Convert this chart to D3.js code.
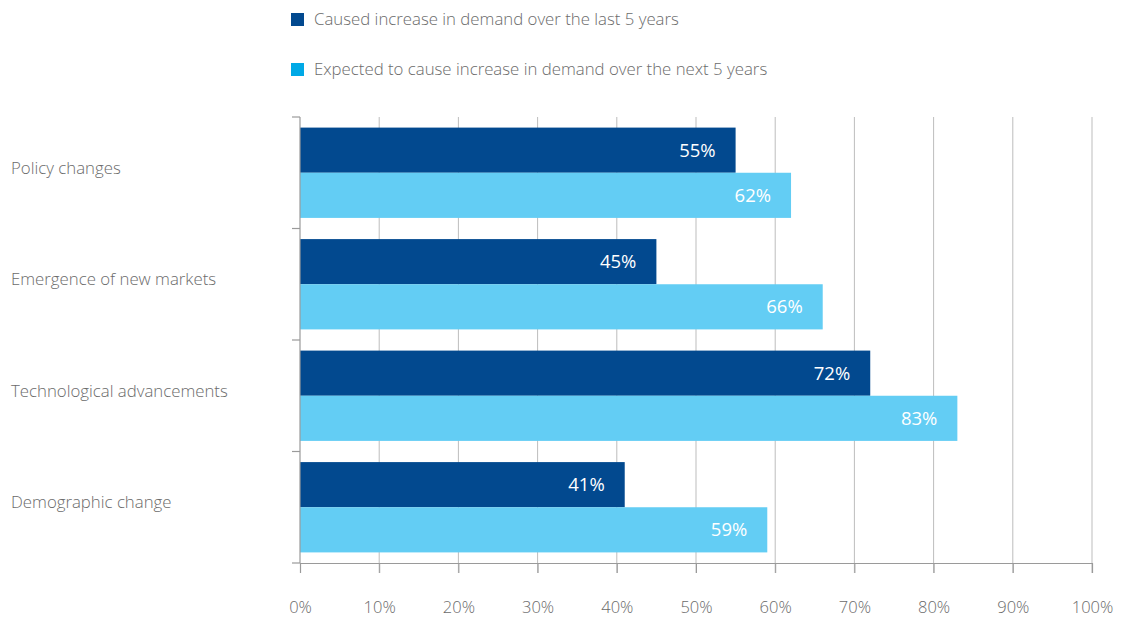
<!DOCTYPE html>
<html>
<head>
<meta charset="utf-8">
<script src="https://cdn.jsdelivr.net/npm/d3@7"></script>
<style>
  html, body { margin: 0; padding: 0; background: #ffffff; }
  svg { display: block; font-family: "Open Sans", "Noto Sans", sans-serif; font-weight: 300; }
</style>
</head>
<body>
<svg id="chart" width="1133" height="621"></svg>
<script>
// Drivers of demand, share of respondents
const categories = ["Policy changes", "Emergence of new markets", "Technological advancements", "Demographic change"];
const seriesNames = ["Caused increase in demand over the last 5 years", "Expected to cause increase in demand over the next 5 years"];
const lastFiveYears = [55, 45, 72, 41];
const nextFiveYears = [62, 66, 83, 59];
const xTicks = [0, 10, 20, 30, 40, 50, 60, 70, 80, 90, 100];

const barColors = ["#02498f", "#63cdf4"];
const legendColors = ["#02498f", "#00a9e6"];
const textGray = "#6b6b6b";

const svg = d3.select("#chart");
const margin = { top: 117, right: 41, bottom: 58, left: 300 };
const width = 1133 - margin.left - margin.right;
const height = 621 - margin.top - margin.bottom;

const x = d3.scaleLinear().domain([0, 100]).range([0, width]);
const y = d3.scaleBand().domain(categories).range([0, height]).paddingInner(0.19).paddingOuter(0.095);
const ySub = d3.scaleBand().domain([0, 1]).range([0, y.bandwidth()]);

const g = svg.append("g").attr("transform", `translate(${margin.left},${margin.top})`);

// vertical gridlines, extending below the axis as tick marks
g.append("g").selectAll("line")
  .data(xTicks.slice(1))
  .join("line")
  .attr("x1", d => x(d)).attr("x2", d => x(d))
  .attr("y1", 0).attr("y2", height + 10)
  .attr("stroke", "#bdbdbd").attr("stroke-width", 1);

// bars
const rows = categories.map((c, i) => ({ cat: c, values: [lastFiveYears[i], nextFiveYears[i]] }));
const groups = g.append("g").selectAll("g")
  .data(rows).join("g")
  .attr("transform", d => `translate(0,${y(d.cat)})`);

groups.selectAll("rect")
  .data(d => d.values.map((v, k) => ({ v, k })))
  .join("rect")
  .attr("x", x(0))
  .attr("y", d => ySub(d.k))
  .attr("width", d => x(d.v) - x(0))
  .attr("height", ySub.bandwidth())
  .attr("fill", d => barColors[d.k]);

groups.selectAll("text")
  .data(d => d.values.map((v, k) => ({ v, k })))
  .join("text")
  .attr("x", d => x(d.v) - 20)
  .attr("y", d => ySub(d.k) + ySub.bandwidth() / 2)
  .attr("dy", "0.36em")
  .attr("text-anchor", "end")
  .attr("fill", "#ffffff")
  .attr("font-size", 18.5)
  .attr("font-weight", 400)
  .text(d => d.v + "%");

// y axis: vertical line with outward ticks between categories
const yBoundaries = [0, ...categories.map(c => y(c) + y.bandwidth() + y.step() * y.paddingInner() / 2)];
yBoundaries[yBoundaries.length - 1] = height;
g.append("line")
  .attr("x1", 0).attr("x2", 0).attr("y1", 0).attr("y2", height)
  .attr("stroke", "#9a9a9a").attr("stroke-width", 1.2);
g.append("g").selectAll("line")
  .data(yBoundaries).join("line")
  .attr("x1", -8).attr("x2", 0)
  .attr("y1", d => d).attr("y2", d => d)
  .attr("stroke", "#9a9a9a").attr("stroke-width", 1.2);

// x axis
const xAxis = d3.axisBottom(x)
  .tickValues(xTicks)
  .tickSize(10)
  .tickPadding(28)
  .tickFormat(d => d + "%");
const xa = g.append("g").attr("transform", `translate(0,${height})`).call(xAxis);
xa.select(".domain").attr("stroke", "#9a9a9a").attr("stroke-width", 1.2);
xa.selectAll(".tick line").attr("stroke", "#9a9a9a");
xa.selectAll(".tick text")
  .attr("fill", textGray)
  .attr("font-size", 16.5)
  .attr("font-weight", 300)
  .attr("font-family", "\"Open Sans\", \"Noto Sans\", sans-serif");

// category labels
svg.append("g").selectAll("text")
  .data(categories).join("text")
  .attr("x", 11)
  .attr("y", d => margin.top + y(d) + y.bandwidth() / 2 - 5)
  .attr("dy", "0.35em")
  .attr("fill", textGray)
  .attr("font-size", 16.8)
  .text(d => d);

// legend
const legend = svg.append("g").attr("transform", "translate(291,13)");
const items = legend.selectAll("g")
  .data(seriesNames).join("g")
  .attr("transform", (d, i) => `translate(0,${i * 50})`);
items.append("rect")
  .attr("width", 13).attr("height", 13)
  .attr("fill", (d, i) => legendColors[i]);
items.append("text")
  .attr("x", 23).attr("y", 6.5).attr("dy", "0.35em")
  .attr("fill", textGray)
  .attr("font-size", 16.8)
  .text(d => d);
</script>
</body>
</html>
